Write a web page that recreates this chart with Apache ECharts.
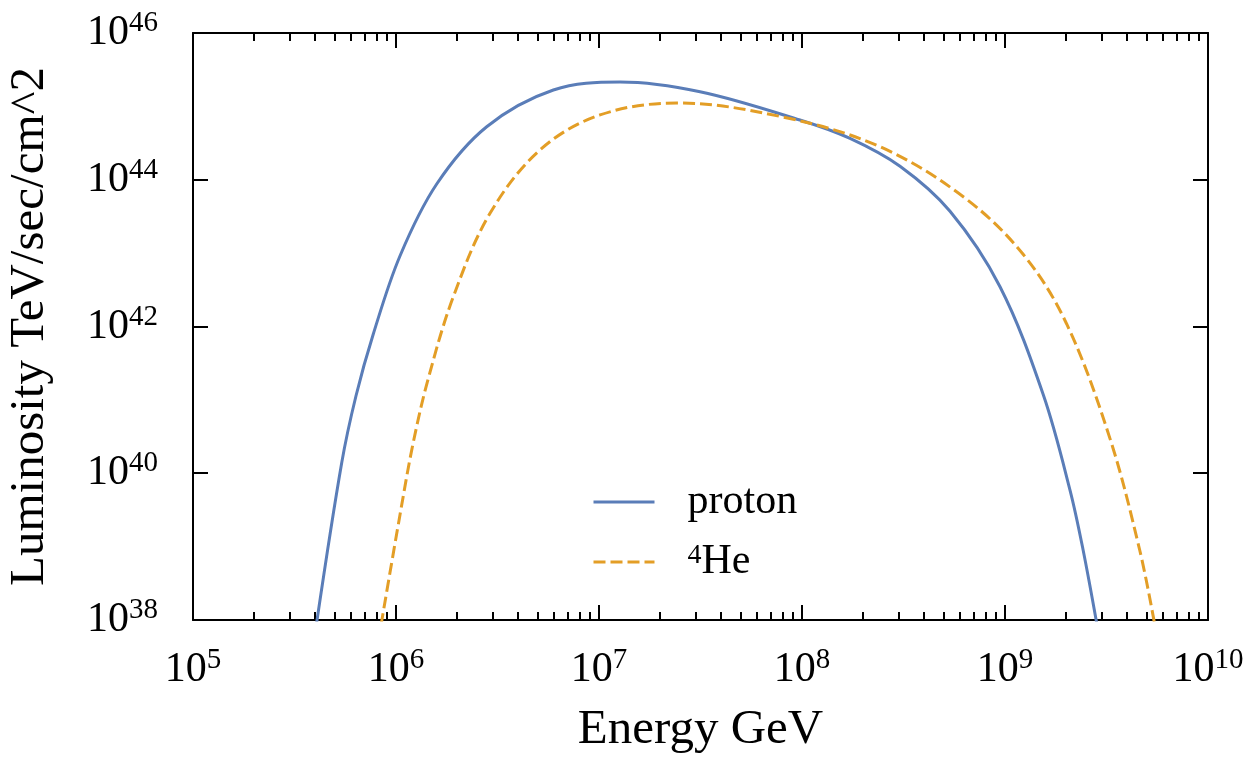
<!DOCTYPE html>
<html><head><meta charset="utf-8">
<script src="https://cdn.jsdelivr.net/npm/echarts@6/dist/echarts.min.js"></script>
<style>html,body{margin:0;padding:0;background:#fff}#c{width:1255px;height:764px}</style>
</head><body><div id="c"></div>
<script>
// ---- data ----
const protonEnergy = [4.05e5, 5.40e5, 6.35e5, 7.73e5, 1.046e6, 1.587e6, 2.798e6, 5.96e6, 1.269e7, 3.145e7, 9.77e7, 1.724e8, 3.04e8, 5.36e8, 9.45e8, 1.544e9, 2.09e9, 2.42e9, 2.84e9];
const protonLum    = [8.55e37, 1.379e40, 1.129e41, 7.90e41, 9.14e42, 8.75e43, 5.28e44, 1.672e45, 2.149e45, 1.585e45, 6.52e44, 3.66e44, 1.525e44, 3.715e43, 3.477e42, 1.173e41, 5.91e39, 9.28e38, 8.55e37];
const heliumEnergy = [8.44e5, 1.046e6, 1.212e6, 1.443e6, 1.916e6, 2.905e6, 5.12e6, 1.011e7, 2.423e7, 8.06e7, 2.42e8, 6.23e8, 1.231e9, 2.013e9, 3.29e9, 4.62e9, 5.48e9];
const heliumLum    = [8.55e37, 2.698e39, 2.503e40, 1.968e41, 2.547e42, 3.49e43, 2.544e44, 7.64e44, 1.11e45, 7.16e44, 2.82e44, 5.87e43, 9.58e42, 1.082e42, 2.967e40, 8.72e38, 8.3e37];
const seriesNames = ['proton', '⁴He'];
const xRange = [1e5, 1e10];
const yRange = [1e38, 1e46];
const xTitle = 'Energy GeV';
const yTitle = 'Luminosity TeV/sec/cm^2';

// minor tick positions of the log x axis (2..9 × each decade), in decade exponents
const xExpRange = [5, 10];
const xMinorTicks = [];
for (let d = 5; d < 10; d++) for (let m = 2; m <= 9; m++) xMinorTicks.push(d + Math.log10(m));

const FONT = 'Liberation Serif';
const BLUE = '#5A7DB8', ORANGE = '#E39E26';
const axisLineStyle = { color: '#000', width: 2 };
const supRich = {
  b: { fontSize: 42, fontFamily: FONT, color: '#000', lineHeight: 48 },
  s: { fontSize: 29, fontFamily: FONT, color: '#000', verticalAlign: 'top', lineHeight: 29 }
};
const powFmt = v => '{b|10}{s|' + Math.round(Math.log10(v)) + '}';

function baseAxis(type, extra) {
  return Object.assign({
    type: type, gridIndex: 0,
    splitLine: { show: false },
    minorTick: { show: false },
    axisLine: { show: true, onZero: false, lineStyle: axisLineStyle },
    axisTick: { show: true, inside: true, length: 15, lineStyle: axisLineStyle },
    axisLabel: { show: false }
  }, extra);
}
function minorAxis(pos) {
  return baseAxis('value', { position: pos, min: xExpRange[0], max: xExpRange[1],
    axisLine: { show: false },
    axisTick: { show: true, inside: true, length: 8, lineStyle: axisLineStyle, customValues: xMinorTicks } });
}

const chart = echarts.init(document.getElementById('c'), null, { renderer: 'canvas' });
chart.setOption({
  animation: false,
  backgroundColor: '#fff',
  grid: { left: 193, top: 33, right: 47, bottom: 144, containLabel: false, outerBoundsMode: 'none' },
  xAxis: [
    baseAxis('log', { logBase: 10, position: 'bottom', min: xRange[0], max: xRange[1], interval: 1,
      axisLabel: { show: true, margin: 26, formatter: powFmt, rich: supRich },
      name: xTitle, nameLocation: 'middle', nameGap: 86,
      nameTextStyle: { fontFamily: FONT, fontSize: 49, color: '#000' } }),
    minorAxis('bottom'),
    baseAxis('log', { logBase: 10, position: 'top', min: xRange[0], max: xRange[1], interval: 1 }),
    minorAxis('top')
  ],
  yAxis: [
    baseAxis('log', { logBase: 10, position: 'left', min: yRange[0], max: yRange[1], interval: 2,
      axisLabel: { show: true, margin: 35, formatter: powFmt, rich: supRich },
      name: yTitle, nameLocation: 'middle', nameGap: 138, nameRotate: 90,
      nameTextStyle: { fontFamily: FONT, fontSize: 49, color: '#000' } }),
    baseAxis('log', { logBase: 10, position: 'right', min: yRange[0], max: yRange[1], interval: 2 })
  ],
  legend: {
    orient: 'vertical', left: 587, top: 476,
    itemWidth: 61, itemHeight: 14, itemGap: 18,
    data: seriesNames,
    itemStyle: { opacity: 0 },
    lineStyle: { width: 3 },
    textStyle: { fontFamily: FONT, fontSize: 42, color: '#000', lineHeight: 40, padding: [0, 0, 0, 28],
      rich: { sup: { fontSize: 28, fontFamily: FONT, color: '#000', verticalAlign: 'top', lineHeight: 24 },
              n: { fontSize: 42, fontFamily: FONT, color: '#000', lineHeight: 40 } } },
    formatter: name => name === '⁴He' ? '{sup|4}{n|He}' : name
  },
  series: [
    { name: seriesNames[0], type: 'line', xAxisIndex: 0, yAxisIndex: 0, symbol: 'none', smooth: 0.35, clip: true,
      data: protonEnergy.map((e, i) => [e, protonLum[i]]),
      lineStyle: { color: BLUE, width: 3 }, itemStyle: { color: BLUE } },
    { name: seriesNames[1], type: 'line', xAxisIndex: 0, yAxisIndex: 0, symbol: 'none', smooth: 0.35, clip: true,
      data: heliumEnergy.map((e, i) => [e, heliumLum[i]]),
      lineStyle: { color: ORANGE, width: 3, type: [12, 5] }, itemStyle: { color: ORANGE } }
  ]
});
</script>
</body></html>
